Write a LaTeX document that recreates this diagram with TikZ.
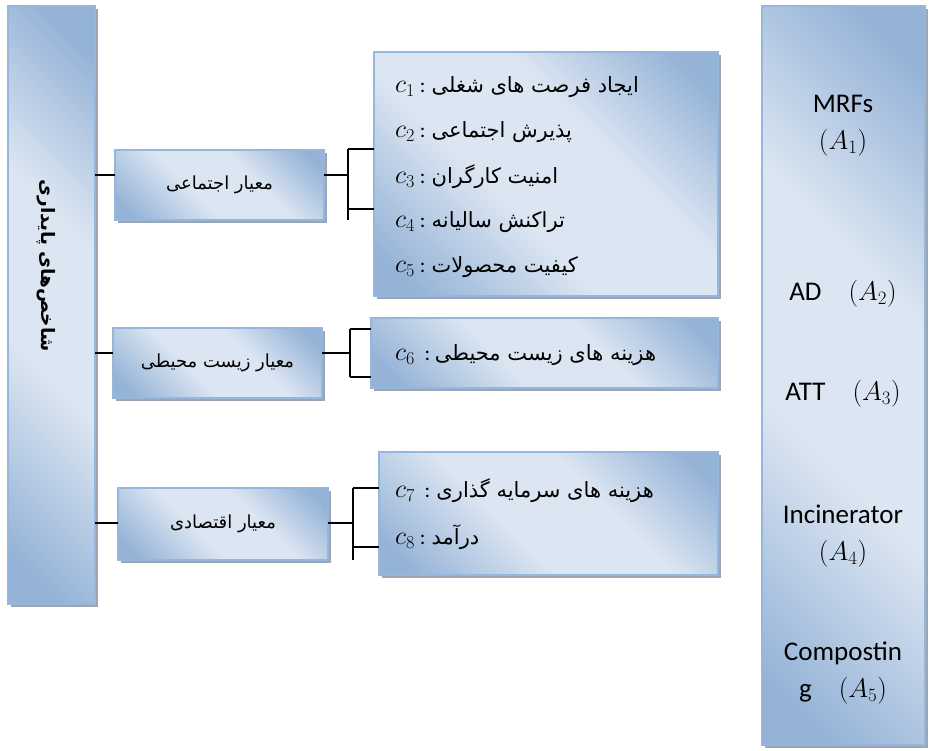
\documentclass[tikz,border=0pt]{standalone}
\usepackage{fix-cm}
\usepackage{fontspec}
\setmainfont{Carlito}
\newfontfamily\persianfont[Script=Arabic]{DejaVu Sans}
\usetikzlibrary{shadows}
\TeXXeTstate=1
\newcommand{\fa}[1]{{\persianfont\beginR #1\endR}}
\newcommand{\critsym}[1]{{\fontsize{26}{30}\selectfont$c_{#1}$}}
\definecolor{boxlight}{HTML}{DCE6F2}
\definecolor{boxdark}{HTML}{95B3D7}
\definecolor{boxedge}{HTML}{95B7DE}
\definecolor{boxshadow}{HTML}{9CA5B2}
\pgfdeclarehorizontalshading{panelshade}{100bp}{color(0bp)=(boxdark); color(20bp)=(boxdark); color(42bp)=(boxlight); color(60bp)=(boxlight); color(80bp)=(boxdark); color(100bp)=(boxdark)}

\begin{document}
\begin{tikzpicture}[x=1pt,y=-1pt,
		panel/.style={draw=boxedge, line width=1.2pt, shading=panelshade, shading angle=45,
			drop shadow={shadow xshift=3pt, shadow yshift=-3pt, fill=boxshadow, opacity=1},
			anchor=north west, inner sep=0pt, outer sep=0pt},
		crittext/.style={font=\fontsize{18}{21}\selectfont},
		itemtext/.style={anchor=west, inner sep=0pt, font=\fontsize{21}{24}\selectfont},
		alttext/.style={align=center, font=\fontsize{27}{37}\selectfont},
		link/.style={line width=1.3pt}]
		\useasboundingbox (0,0) rectangle (932,751);
		%\draw[help lines, step=50] (0,0) grid (932,751);
		% main boxes
		\node[panel, minimum width=87pt, minimum height=598pt] (root) at (8,6) {};
		\node[panel, minimum width=163pt, minimum height=739pt] (alts) at (762,6) {};
		\node[rotate=-90, font=\fontsize{18.5}{22}\selectfont\bfseries] (roottext) at (46,266) {\fa{شاخص‌های پایداری}};
		% criteria
		\node[panel, minimum width=209pt, minimum height=70pt] (crit1) at (115,150) {};
		\node[panel, minimum width=209pt, minimum height=70pt] (crit2) at (113,328) {};
		\node[panel, minimum width=210pt, minimum height=72pt] (crit3) at (118,488) {};
		\node[crittext] at (crit1.center) {\fa{معیار اجتماعی}};
		\node[crittext] at (crit2.center) {\fa{معیار زیست محیطی}};
		\node[crittext] at (crit3.center) {\fa{معیار اقتصادی}};
		% sub criteria
		\node[panel, minimum width=344pt, minimum height=244pt] (sub1) at (374,52) {};
		\node[panel, minimum width=347pt, minimum height=70pt] (sub2) at (371,318) {};
		\node[panel, minimum width=339pt, minimum height=123pt] (sub3) at (379,452) {};
		\foreach \i/\y/\t in {1/87/{ایجاد فرصت های شغلی}, 2/132/{پذیرش اجتماعی}, 3/177/{امنیت کارگران}, 4/222/{تراکنش سالیانه}, 5/267/{کیفیت محصولات}} {
			\node[itemtext] (c\i) at (395,\y) {\critsym{\i} : \fa{\t}};
		}
		\node[itemtext] (c6) at (395,355) {\critsym{6}\ \ :\ \fa{هزینه های زیست محیطی}};
		\node[itemtext] (c7) at (395,491) {\critsym{7}\ \ : \fa{هزینه های سرمایه گذاری}};
		\node[itemtext] (c8) at (395,537) {\critsym{8} : \fa{درآمد}};
		% alternatives
		\node[alttext] (a1) at (843,126) {MRFs\\$(A_1)$};
		\node[alttext] (a2) at (843,294) {AD\quad$(A_2)$};
		\node[alttext] (a3) at (843,394) {ATT\quad$(A_3)$};
		\node[alttext] (a4) at (843,536) {Incinerator\\$(A_4)$};
		\node[alttext] (a5) at (843,673) {Compostin\\g\quad$(A_5)$};
		% connectors
		\coordinate (j1) at (348,175);
		\coordinate (j2) at (350,353);
		\coordinate (j3) at (353,523);
		\draw[link] (root.east |- j1) -- (crit1.west |- j1);
		\draw[link] (root.east |- j2) -- (crit2.west |- j2);
		\draw[link] (root.east |- j3) -- (crit3.west |- j3);
		\draw[link] (crit1.east |- j1) -- (j1);
		\draw[link] (crit2.east |- j2) -- (j2);
		\draw[link] (crit3.east |- j3) -- (j3);
		% brackets
		\coordinate (t1a) at (348,149);
		\coordinate (t1b) at (348,209);
		\coordinate (e1) at (348,220);
		\coordinate (t2a) at (350,329);
		\coordinate (t2b) at (350,377);
		\coordinate (t3a) at (353,488);
		\coordinate (t3b) at (353,547);
		\coordinate (e3) at (353,560);
		\draw[link] (t1a) -- (e1);
		\draw[link] (t2a) -- (t2b);
		\draw[link] (t3a) -- (e3);
		\draw[link] (t1a) -- (t1a -| sub1.west);
		\draw[link] (t1b) -- (t1b -| sub1.west);
		\draw[link] (t2a) -- (t2a -| sub2.west);
		\draw[link] (t2b) -- (t2b -| sub2.west);
		\draw[link] (t3a) -- (t3a -| sub3.west);
		\draw[link] (t3b) -- (t3b -| sub3.west);
\end{tikzpicture}
\end{document}
